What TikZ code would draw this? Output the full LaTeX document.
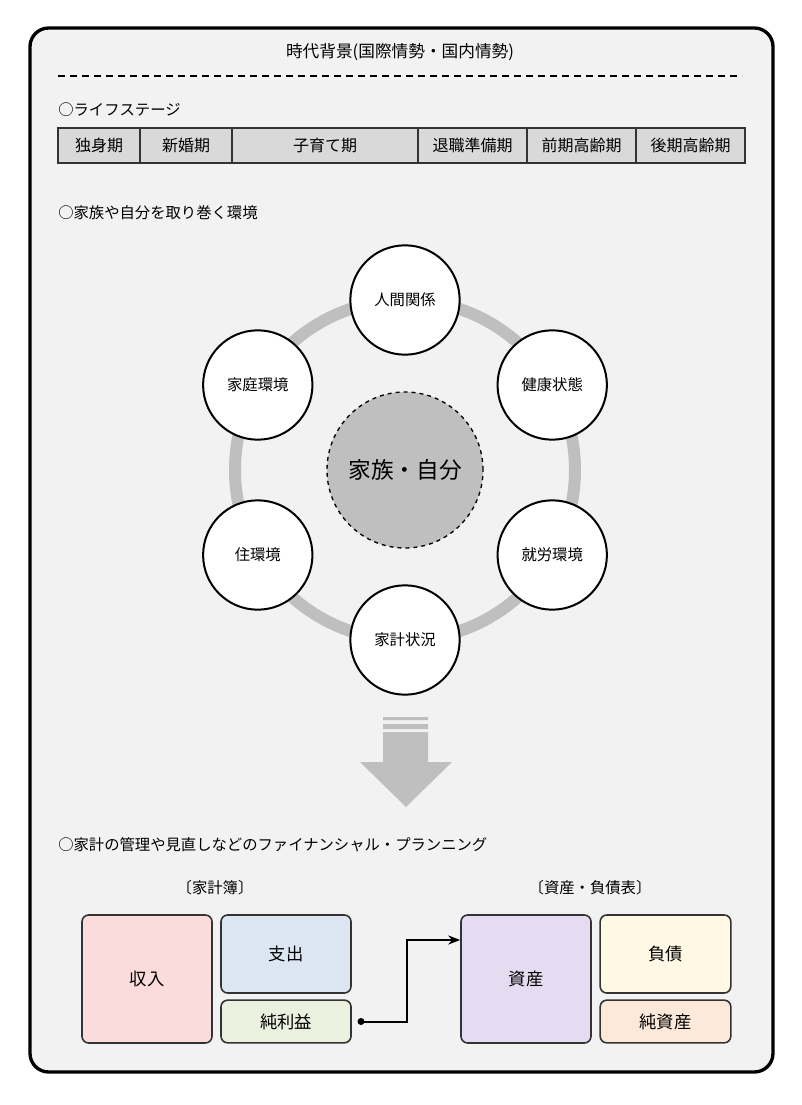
\documentclass[tikz,border=0pt]{standalone}
\usepackage{fontspec}
\setmainfont{Noto Sans CJK JP}
\usetikzlibrary{arrows.meta,calc}
\definecolor{cexp}{HTML}{DCE6F2}
\definecolor{cnet}{HTML}{EBF1DE}
\definecolor{cinc}{HTML}{FADCDD}
\definecolor{cast}{HTML}{E6DCF2}
\definecolor{cdbt}{HTML}{FFF8E5}
\definecolor{cna}{HTML}{FDE9D9}
\begin{document}
\begin{tikzpicture}[x=0.75pt,y=-0.75pt,
  every node/.style={font=\fontsize{11.5}{13}\selectfont},
  cell/.style={draw=black!80,fill=black!15,line width=0.8pt,minimum height=26.25pt,inner sep=0pt},
  sat/.style={circle,draw,line width=1.5pt,fill=white,minimum size=82pt,inner sep=0pt},
  box/.style={draw=black!80,line width=1.2pt,rounded corners=5pt,inner sep=0pt,font=\fontsize{13}{15}\selectfont}]
\useasboundingbox (0,0) rectangle (801,1105);
\draw[line width=2.5pt,fill=black!5,rounded corners=14pt] (30,28) rectangle (773,1072);
\node[font=\fontsize{12.5}{15}\selectfont] (title) at (400,52) {時代背景(国際情勢・国内情勢)};
\draw[line width=0.8pt,dash pattern=on 5pt off 4pt] (58,76) -- (742,76);
\node[anchor=west,inner sep=0pt] (ls) at (58,110) {○ライフステージ};
\foreach \a/\b/\t/\n in {58/140/独身期/c1,140/232/新婚期/c2,232/418/子育て期/c3,418/527/退職準備期/c4,527/636/前期高齢期/c5,636/745/後期高齢期/c6}
  \node[cell,minimum width={(\b-\a)*0.75pt},font=\fontsize{12}{14}\selectfont] (\n) at ({(\a+\b)/2},145.5) {\t};
\node[anchor=west,inner sep=0pt] (env) at (58,213) {○家族や自分を取り巻く環境};
\coordinate (o) at (405,470);
\draw[line width=9pt,black!25] (o) circle[radius=170];
\node[circle,draw,dashed,line width=1pt,fill=black!25,minimum size=117pt,font=\fontsize{17}{20}\selectfont] (me) at (o) {家族・自分};
\foreach \ang/\t/\n in {-90/人間関係/s1,-30/健康状態/s2,30/就労環境/s3,90/家計状況/s4,150/住環境/s5,-150/家庭環境/s6}
  \node[sat] (\n) at ($(o)+(\ang:170)$) {\t};
\fill[black!25] (383,717) rectangle (428,720) (383,724) rectangle (428,729) (383,732) rectangle (428,762);
\fill[black!25] (360,762) -- (452,762) -- (406,807) -- cycle;
\node[anchor=west,inner sep=0pt] (fp) at (58,845) {○家計の管理や見直しなどのファイナンシャル・プランニング};
\node (kb) at (215,888) {〔家計簿〕};
\node (bs) at (590,888) {〔資産・負債表〕};
\node[box,fill=cinc,minimum width=97.5pt,minimum height=96pt] (inc) at (147,979) {収入};
\node[box,fill=cexp,minimum width=97.5pt,minimum height=58.5pt] (exp) at (286,954) {支出};
\node[box,fill=cnet,minimum width=97.5pt,minimum height=32pt] (net) at (286,1021.5) {純利益};
\node[box,fill=cast,minimum width=97.5pt,minimum height=96pt] (ast) at (526,979) {資産};
\node[box,fill=cdbt,minimum width=98pt,minimum height=58.5pt] (dbt) at (665.5,954) {負債};
\node[box,fill=cna,minimum width=98pt,minimum height=32pt] (na) at (665.5,1021.5) {純資産};
\coordinate (dot) at (361,1021.5);
\coordinate (p1) at (407,1021.5);
\fill (dot) circle[radius=3.5];
\draw[line width=1.5pt,-{Stealth[length=9pt]}] (dot) -- (p1) |- (ast.west |- 0,940);
\end{tikzpicture}
\end{document}
